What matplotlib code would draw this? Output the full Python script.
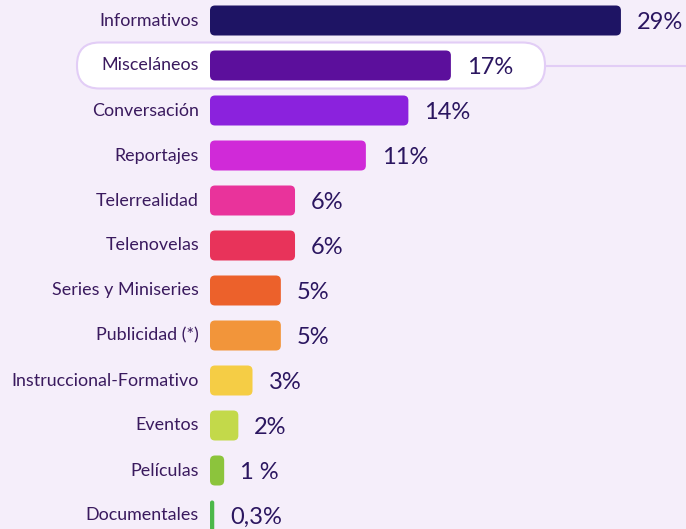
import matplotlib.pyplot as plt
from matplotlib.patches import FancyBboxPatch

categorias = ['Informativos', 'Misceláneos', 'Conversación', 'Reportajes', 'Telerrealidad',
              'Telenovelas', 'Series y Miniseries', 'Publicidad (*)', 'Instruccional-Formativo',
              'Eventos', 'Películas', 'Documentales']
valores = [29, 17, 14, 11, 6, 6, 5, 5, 3, 2, 1, 0.3]
etiquetas = ['29%', '17%', '14%', '11%', '6%', '6%', '5%', '5%', '3%', '2%', '1 %', '0,3%']
colores = ['#1e1464', '#5c0f9c', '#8b22dd', '#d02ad8', '#e9339b', '#e8335a',
           '#ec612b', '#f2953a', '#f5cd45', '#c3d94a', '#8cc43c', '#4cb84a']
destacado = 1  # Misceláneos

bg = '#f5eefa'
txt = '#2b1660'

fig = plt.figure(figsize=(6.86, 5.29), dpi=100, facecolor=bg)
ax = fig.add_axes([0, 0, 1, 1], facecolor=bg)

px_x = 14.17   # pixels per percentage point
px_y = 45.0    # pixels per row
ax.set_xlim(-210 / px_x, (686 - 210) / px_x)
ax.set_ylim((529 - 20.5) / px_y, -20.5 / px_y)
ax.axis('off')
aspect = px_x / px_y

# pill highlighting one row
pill_x0, pill_x1 = -133 / px_x, 335 / px_x
pill_h = 46 / px_y
ax.plot([pill_x1, ax.get_xlim()[1]], [destacado, destacado], color='#e2cdf6', lw=1.5, zorder=1)
ax.add_patch(FancyBboxPatch((pill_x0, destacado - pill_h / 2), pill_x1 - pill_x0, pill_h,
                            boxstyle='round,pad=0,rounding_size=%f' % (22.5 / px_x),
                            mutation_aspect=aspect, fc='white', ec='#e2cdf6', lw=1.5, zorder=2))

bar_h = 30 / px_y
for i, (cat, v, lab, c) in enumerate(zip(categorias, valores, etiquetas, colores)):
    r = min(5 / px_x, v / 2)
    ax.add_patch(FancyBboxPatch((0, i - bar_h / 2), v, bar_h,
                                boxstyle='round,pad=0,rounding_size=%f' % r,
                                mutation_aspect=aspect, fc=c, ec='none', zorder=3))
    ax.annotate(cat, xy=(0, i), xytext=(-11, 0), textcoords='offset pixels',
                ha='right', va='center', fontsize=12.9, color='#3a1a5e',
                family='Lato', zorder=4)
    ax.annotate(lab, xy=(v, i), xytext=(16, -2), textcoords='offset pixels',
                ha='left', va='center', fontsize=17, color=txt,
                family='Lato', zorder=4)

fig.savefig('out.png', dpi=100, facecolor=bg)
